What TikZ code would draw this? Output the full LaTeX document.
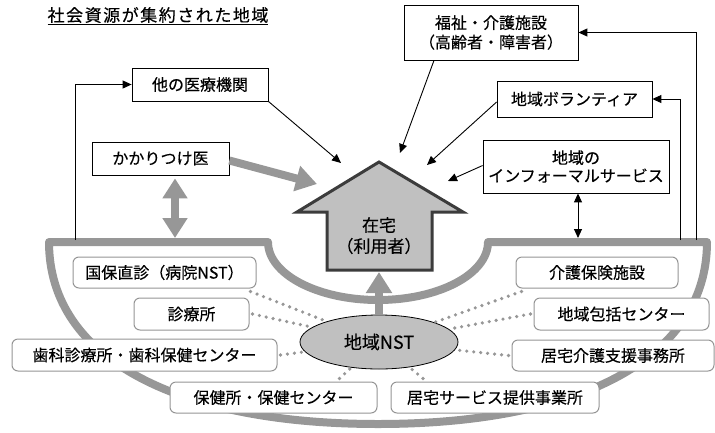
\documentclass[tikz,border=0pt]{standalone}
\usepackage{fontspec}
\newfontfamily\jp[FakeBold=0.35]{Noto Sans CJK JP}
\newfontfamily\jpt[LetterSpace=9,FakeBold=0.35]{Noto Sans CJK JP}
\usetikzlibrary{arrows.meta,shapes.geometric}
\definecolor{bandgray}{HTML}{979797}
\definecolor{housefill}{HTML}{C0C0C0}
\definecolor{housedraw}{HTML}{3C3C3C}
\definecolor{rboxdraw}{HTML}{959595}
\tikzset{
  sqbox/.style={draw=black, line width=0.8pt, fill=white, inner sep=0pt, align=center,
    font=\jp\fontsize{16}{19}\selectfont},
  rbox/.style={draw=rboxdraw, line width=1pt, fill=white, rounded corners=6pt, inner sep=0pt,
    align=center, font=\jp\fontsize{16}{19}\selectfont},
  thinarrow/.style={line width=0.9pt, -{Triangle[length=9pt,width=8pt]}},
  thindouble/.style={line width=0.9pt, {Triangle[length=9pt,width=8pt]}-{Triangle[length=9pt,width=8pt]}},
  fatarrow/.style={draw=bandgray, line width=8pt, -{Triangle[length=21pt,width=25pt]}},
  fatdouble/.style={draw=bandgray, line width=8pt, {Triangle[length=20pt,width=24pt]}-{Triangle[length=20pt,width=24pt]}},
  dots/.style={draw=bandgray, line width=3.6pt, line cap=round, dash pattern=on 0pt off 7pt},
  housetext/.style={font=\jp\fontsize{17}{20}\selectfont, inner sep=0pt},
}
\begin{document}
\begin{tikzpicture}[x=1pt, y=-1pt]
\useasboundingbox (0,0) rectangle (715,432);

% band (community region)
\draw[bandgray, line width=8pt, line join=round]
  (49,242) .. controls (49,360) and (180,424) .. (378,424)
  .. controls (576,424) and (707,360) .. (707,242)
  -- (488,242) arc[start angle=0, end angle=180, x radius=110, y radius=58]
  -- cycle;

% title
\node[font=\jpt\fontsize{17}{20}\selectfont, inner sep=0pt] (title) at (158,16) {\underline{社会資源が集約された地域}};

% top boxes
\node[sqbox, minimum width=136pt, minimum height=33pt] (iryo) at (200,84.5) {他の医療機関};
\node[sqbox, minimum width=137pt, minimum height=33pt] (kakari) at (160.5,158.5) {かかりつけ医};
\node[sqbox, minimum width=174pt, minimum height=55pt, font=\jp\fontsize{16}{19.5}\selectfont] (fukushi) at (491,32.5) {福祉・介護施設\\（高齢者・障害者）};
\node[sqbox, minimum width=155pt, minimum height=36pt] (vol) at (574.5,99) {地域ボランティア};
\node[sqbox, minimum width=186pt, minimum height=53pt, font=\jp\fontsize{16}{18}\selectfont] (inf) at (576,166.5) {地域の\\インフォーマルサービス};

% house
\draw[fill=housefill, draw=housedraw, line width=3pt, line join=miter]
  (379,162) -- (463,212) -- (432,212) -- (432,270) -- (327,270) -- (327,212) -- (297,212) -- cycle;
\node[housetext] (zaitaku) at (379,225) {在宅};
\node[housetext] (riyosha) at (379,246) {（利用者）};
\coordinate (hb) at (379,272);

% free ends
\coordinate (tipA) at (341,163);
\coordinate (tipB) at (400,153);
\coordinate (tipC) at (427,165);
\coordinate (tipD) at (448,181);
\coordinate (tipE) at (578,238);
\coordinate (tipK) at (317,184);
\coordinate (tipV) at (175,238);
\coordinate (bandL) at (75,240);
\coordinate (bandR1) at (680,240);
\coordinate (bandR2) at (696,240);

% thin arrows
\draw[thinarrow] (iryo.south east) -- (tipA);
\draw[thinarrow] ([xshift=-57pt]fukushi.south) -- (tipB);
\draw[thinarrow] ([yshift=-3pt]vol.west) -- (tipC);
\draw[thinarrow] ([yshift=1pt]inf.west) -- (tipD);
\draw[thindouble] ([xshift=2pt]inf.south) -- (tipE);
\draw[thinarrow] (bandR2) |- (fukushi.east);
\draw[thinarrow] (bandR1) |- (vol.east);
\draw[thinarrow] (bandL) |- (iryo.west);

% fat gray arrows
\draw[fatarrow] ([yshift=-2pt]kakari.east) -- (tipK);
\draw[fatdouble] ([xshift=14.5pt,yshift=-3pt]kakari.south) -- (tipV);

% NST ellipse
\node[ellipse, draw=black, line width=0.8pt, fill=housefill, minimum width=158pt, minimum height=54pt, inner sep=0pt,
  font=\jp\fontsize{18}{20}\selectfont] (nst) at (379,342) {地域NST};
\draw[fatarrow] (nst.north) -- (hb);

% lower rounded boxes
\node[rbox, minimum width=183pt, minimum height=31pt] (kokuho) at (164.5,272.5) {国保直診（病院NST）};
\node[rbox, minimum width=115pt, minimum height=32pt] (shinryo) at (191.5,314) {診療所};
\node[rbox, minimum width=265pt, minimum height=32pt] (shika) at (144.5,355) {歯科診療所・歯科保健センター};
\node[rbox, minimum width=207pt, minimum height=31pt] (hoken) at (273.5,397.5) {保健所・保健センター};
\node[rbox, minimum width=208pt, minimum height=31pt] (kyos) at (495,397.5) {居宅サービス提供事業所};
\node[rbox, minimum width=202pt, minimum height=31pt] (shien) at (613,355.5) {居宅介護支援事務所};
\node[rbox, minimum width=175pt, minimum height=32pt] (houkatsu) at (621.5,314) {地域包括センター};
\node[rbox, minimum width=162pt, minimum height=31pt] (kaigo) at (597,272.5) {介護保険施設};

% dotted links
\draw[dots] ([xshift=-6pt,yshift=-3pt]kokuho.south east) -- (nst);
\draw[dots] ([xshift=3pt]shinryo.east) -- (nst);
\draw[dots] ([xshift=3pt]shika.east) -- (nst);
\draw[dots] ([xshift=66pt,yshift=3pt]hoken.north) -- (nst);
\draw[dots] ([xshift=-72pt,yshift=3pt]kyos.north) -- (nst);
\draw[dots] ([xshift=6pt,yshift=-3pt]kaigo.south west) -- (nst);
\draw[dots] ([xshift=-3pt]houkatsu.west) -- (nst);
\draw[dots] ([xshift=-3pt]shien.west) -- (nst);
\end{tikzpicture}
\end{document}
